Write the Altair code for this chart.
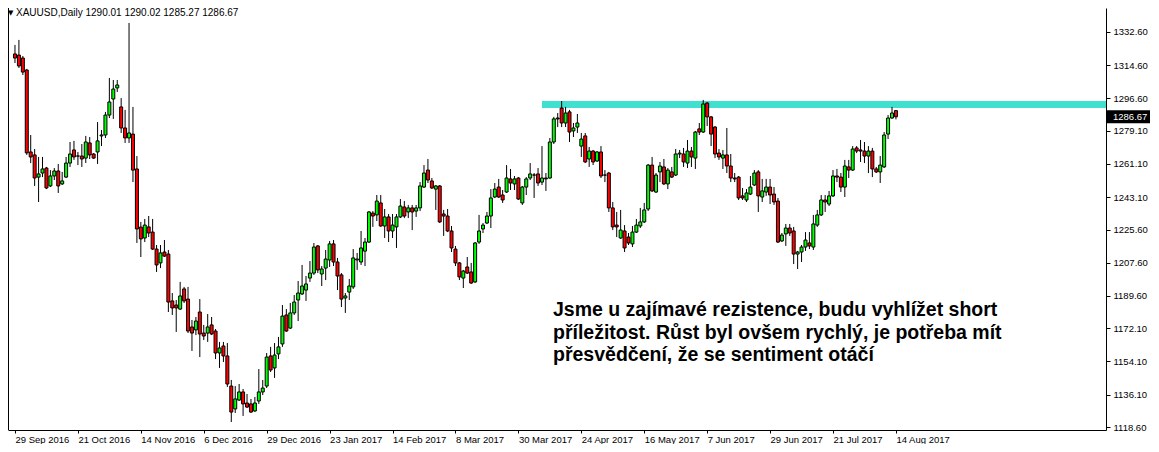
import altair as alt
import pandas as pd

# ---- data (XAUUSD daily candles) ----
dates = ["29 Sep 2016", "21 Oct 2016", "14 Nov 2016", "6 Dec 2016", "29 Dec 2016",
         "23 Jan 2017", "14 Feb 2017", "8 Mar 2017", "30 Mar 2017", "24 Apr 2017",
         "16 May 2017", "7 Jun 2017", "29 Jun 2017", "21 Jul 2017", "14 Aug 2017"]
date_index = list(range(0, 225, 16))

open_ = [1320.7, 1320.1, 1318.5, 1312.0, 1267.6, 1266.0, 1254.0, 1256.2, 1258.9, 1249.2,
         1254.6, 1257.3, 1250.3, 1254.0, 1261.6, 1268.7, 1265.4, 1265.4, 1264.3, 1272.5,
         1266.5, 1267.6, 1276.3, 1276.8, 1287.6, 1296.3, 1302.3, 1292.0, 1280.6, 1275.2,
         1277.3, 1258.4, 1226.9, 1221.0, 1227.0, 1224.2, 1215.0, 1207.5, 1213.4, 1212.3,
         1186.9, 1184.7, 1182.5, 1193.4, 1187.9, 1172.8, 1171.2, 1180.9, 1169.5, 1169.5,
         1173.9, 1170.6, 1158.7, 1162.5, 1157.1, 1140.8, 1128.4, 1133.2, 1137.6, 1131.6,
         1131.1, 1127.3, 1132.7, 1137.6, 1140.8, 1157.1, 1150.6, 1158.2, 1163.6, 1179.3,
         1172.2, 1180.4, 1187.4, 1190.7, 1192.8, 1199.3, 1202.0, 1216.7, 1201.5, 1204.7,
         1209.1, 1217.8, 1208.0, 1201.0, 1188.5, 1191.7, 1194.5, 1209.1, 1208.0, 1213.9,
         1218.8, 1234.5, 1233.5, 1240.0, 1227.5, 1232.4, 1224.8, 1227.0, 1232.4, 1237.8,
         1235.1, 1237.3, 1235.6, 1237.3, 1248.6, 1257.8, 1251.9, 1247.5, 1249.2, 1234.0,
         1232.9, 1224.8, 1215.0, 1207.5, 1199.3, 1205.3, 1202.6, 1197.2, 1218.8, 1225.9,
         1229.1, 1232.9, 1243.2, 1248.6, 1244.3, 1245.9, 1253.0, 1250.3, 1253.5, 1240.0,
         1248.6, 1253.5, 1255.1, 1255.7, 1251.3, 1253.5, 1253.5, 1273.0, 1286.0, 1291.4,
         1283.3, 1289.3, 1279.0, 1281.1, 1270.8, 1276.3, 1263.8, 1268.1, 1262.7, 1267.6,
         1255.1, 1256.2, 1237.3, 1228.0, 1221.0, 1224.8, 1221.5, 1217.8, 1224.2, 1227.5,
         1229.7, 1236.7, 1260.5, 1245.9, 1256.8, 1259.5, 1250.3, 1256.8, 1255.1, 1266.5,
         1266.5, 1261.6, 1268.1, 1264.3, 1280.1, 1278.4, 1294.1, 1286.6, 1281.1, 1267.0,
         1264.3, 1266.0, 1260.0, 1253.5, 1254.0, 1243.8, 1241.6, 1244.8, 1249.7, 1256.8,
         1243.2, 1245.9, 1248.6, 1244.8, 1241.0, 1219.4, 1223.2, 1226.4, 1224.8, 1212.3,
         1213.4, 1216.1, 1218.3, 1216.1, 1228.0, 1233.5, 1241.6, 1239.4, 1243.8, 1254.6,
         1254.0, 1248.6, 1259.5, 1257.8, 1269.8, 1268.7, 1268.1, 1265.4, 1268.1, 1258.4,
         1256.8, 1259.5, 1277.3, 1286.0, 1290.01]
high = [1325.6, 1328.3, 1319.6, 1312.6, 1276.8, 1269.2, 1264.9, 1264.9, 1259.5, 1257.8,
        1258.9, 1261.1, 1256.8, 1264.9, 1273.0, 1273.6, 1267.6, 1271.9, 1276.3, 1275.7,
        1267.0, 1283.8, 1279.5, 1289.3, 1307.7, 1306.6, 1306.6, 1296.8, 1290.4, 1337.5,
        1292.0, 1265.4, 1229.7, 1231.3, 1232.9, 1231.3, 1217.2, 1217.2, 1219.9, 1214.5,
        1191.2, 1187.4, 1197.2, 1194.5, 1194.5, 1176.6, 1178.2, 1187.9, 1173.9, 1179.8,
        1178.2, 1171.7, 1164.7, 1164.7, 1164.1, 1144.1, 1140.8, 1141.9, 1139.2, 1136.5,
        1133.8, 1134.9, 1150.0, 1144.1, 1158.7, 1162.0, 1164.1, 1167.4, 1184.7, 1182.5,
        1185.8, 1190.1, 1197.7, 1206.4, 1200.4, 1208.5, 1218.3, 1217.2, 1205.8, 1214.5,
        1219.4, 1219.9, 1210.2, 1202.0, 1191.2, 1198.8, 1215.0, 1212.9, 1224.8, 1221.0,
        1235.6, 1235.6, 1244.3, 1244.3, 1236.7, 1234.0, 1234.0, 1234.0, 1242.1, 1241.0,
        1238.9, 1238.9, 1238.9, 1251.3, 1260.5, 1263.8, 1253.5, 1249.7, 1249.7, 1236.2,
        1236.7, 1227.5, 1216.7, 1208.0, 1203.7, 1210.7, 1207.5, 1218.8, 1233.5, 1229.1,
        1235.1, 1247.5, 1250.8, 1253.0, 1247.0, 1260.5, 1258.4, 1254.6, 1254.0, 1249.2,
        1254.0, 1261.6, 1256.2, 1258.9, 1270.8, 1256.2, 1275.2, 1286.6, 1288.7, 1295.2,
        1292.0, 1290.4, 1283.3, 1288.2, 1277.9, 1277.9, 1270.3, 1268.7, 1268.1, 1270.8,
        1257.8, 1256.8, 1240.5, 1235.1, 1236.2, 1228.0, 1223.7, 1227.5, 1231.3, 1237.3,
        1240.0, 1261.1, 1264.9, 1256.2, 1262.2, 1263.8, 1258.9, 1259.5, 1269.2, 1268.7,
        1269.8, 1274.1, 1270.3, 1279.0, 1283.3, 1295.8, 1294.7, 1287.1, 1281.7, 1269.2,
        1268.7, 1280.6, 1266.5, 1256.2, 1254.6, 1248.1, 1247.5, 1254.6, 1257.8, 1257.8,
        1253.0, 1253.0, 1253.0, 1248.6, 1242.7, 1223.7, 1228.6, 1228.6, 1227.0, 1214.0,
        1217.2, 1224.2, 1224.2, 1233.5, 1236.2, 1244.3, 1244.3, 1246.5, 1257.8, 1258.4,
        1256.2, 1263.3, 1263.3, 1270.8, 1270.8, 1274.1, 1273.0, 1270.8, 1269.8, 1259.5,
        1265.4, 1278.4, 1287.6, 1292.0, 1290.02]
low = [1315.8, 1313.1, 1309.3, 1266.0, 1261.6, 1249.2, 1240.5, 1254.0, 1247.5, 1248.6,
       1252.4, 1245.4, 1249.7, 1253.5, 1259.5, 1263.3, 1260.5, 1259.5, 1261.6, 1263.8,
       1263.8, 1261.1, 1270.8, 1275.2, 1286.0, 1285.5, 1300.1, 1277.9, 1272.5, 1272.5,
       1251.3, 1218.3, 1210.7, 1218.8, 1221.5, 1214.5, 1202.6, 1204.7, 1210.7, 1180.9,
       1179.3, 1170.1, 1182.0, 1185.8, 1169.5, 1159.8, 1168.4, 1156.5, 1165.7, 1164.7,
       1168.4, 1155.4, 1150.6, 1153.8, 1140.3, 1121.3, 1126.2, 1132.7, 1124.6, 1128.9,
       1126.2, 1126.7, 1131.1, 1135.9, 1139.7, 1148.4, 1145.2, 1155.4, 1162.0, 1170.1,
       1171.7, 1179.3, 1176.0, 1190.1, 1186.9, 1197.2, 1201.0, 1202.0, 1195.0, 1198.2,
       1205.3, 1205.8, 1192.8, 1183.6, 1180.4, 1187.4, 1193.4, 1203.7, 1206.4, 1205.8,
       1218.3, 1227.0, 1230.2, 1227.0, 1221.0, 1218.8, 1221.0, 1215.6, 1231.8, 1231.8,
       1231.8, 1225.3, 1232.4, 1235.6, 1248.1, 1250.8, 1247.5, 1236.2, 1229.1, 1222.1,
       1224.2, 1213.4, 1205.8, 1198.2, 1193.9, 1201.5, 1196.1, 1196.6, 1217.8, 1223.7,
       1228.6, 1226.4, 1242.7, 1242.7, 1240.0, 1245.4, 1247.0, 1247.0, 1241.6, 1238.9,
       1244.3, 1252.4, 1242.7, 1249.2, 1249.7, 1246.5, 1253.0, 1271.9, 1281.1, 1281.1,
       1281.1, 1273.0, 1275.7, 1277.9, 1264.9, 1261.6, 1259.5, 1260.5, 1262.2, 1253.5,
       1251.3, 1235.1, 1225.3, 1221.5, 1220.5, 1213.4, 1217.2, 1216.1, 1223.7, 1226.4,
       1229.1, 1235.6, 1245.9, 1245.4, 1251.3, 1249.7, 1247.5, 1253.5, 1254.6, 1264.3,
       1259.5, 1258.9, 1259.5, 1258.4, 1276.8, 1277.9, 1281.7, 1270.8, 1264.3, 1263.3,
       1258.4, 1256.2, 1251.3, 1251.3, 1241.6, 1241.6, 1240.5, 1244.3, 1249.2, 1235.1,
       1240.5, 1243.8, 1239.4, 1238.9, 1218.3, 1218.8, 1216.7, 1222.1, 1206.9, 1204.2,
       1208.0, 1214.0, 1215.0, 1214.5, 1227.0, 1232.9, 1235.1, 1238.3, 1243.2, 1251.3,
       1245.9, 1243.2, 1253.5, 1257.3, 1267.0, 1262.2, 1261.6, 1256.2, 1254.0, 1256.2,
       1250.8, 1258.9, 1274.6, 1285.5, 1285.27]
close = [1318.5, 1314.2, 1310.9, 1267.1, 1264.9, 1253.5, 1255.7, 1258.4, 1248.1, 1254.6,
         1257.3, 1249.2, 1251.9, 1261.6, 1266.5, 1264.9, 1265.4, 1263.8, 1273.0, 1266.0,
         1264.3, 1273.6, 1276.8, 1287.6, 1294.7, 1301.7, 1303.9, 1280.6, 1275.2, 1277.9,
         1257.8, 1225.9, 1220.5, 1228.0, 1223.7, 1215.0, 1206.4, 1212.9, 1211.2, 1186.3,
         1183.1, 1183.1, 1189.6, 1186.9, 1170.6, 1169.5, 1176.0, 1169.0, 1167.9, 1172.8,
         1169.0, 1158.7, 1161.4, 1157.1, 1141.9, 1126.7, 1133.8, 1137.6, 1131.1, 1129.4,
         1126.7, 1131.6, 1137.6, 1139.7, 1156.5, 1149.5, 1157.6, 1162.0, 1178.7, 1170.6,
         1180.4, 1186.3, 1191.2, 1195.0, 1196.1, 1202.0, 1216.1, 1203.7, 1204.2, 1209.6,
         1217.8, 1208.0, 1200.4, 1187.9, 1189.6, 1195.0, 1210.2, 1209.6, 1215.6, 1218.8,
         1235.1, 1232.9, 1241.0, 1227.5, 1232.4, 1224.8, 1228.0, 1232.4, 1238.3, 1232.9,
         1237.3, 1235.1, 1237.3, 1249.2, 1256.2, 1252.4, 1248.1, 1249.2, 1229.7, 1232.9,
         1224.8, 1215.6, 1207.5, 1199.9, 1203.1, 1202.0, 1196.6, 1218.3, 1224.8, 1228.0,
         1232.9, 1242.7, 1247.5, 1243.2, 1241.6, 1253.5, 1250.8, 1253.0, 1242.1, 1248.6,
         1253.0, 1255.7, 1255.1, 1250.8, 1253.5, 1253.0, 1273.0, 1285.5, 1285.5, 1283.3,
         1288.7, 1278.4, 1280.6, 1283.3, 1274.6, 1262.2, 1268.1, 1262.2, 1267.6, 1254.6,
         1255.1, 1237.3, 1227.0, 1227.0, 1225.3, 1215.6, 1218.3, 1224.2, 1228.0, 1229.7,
         1236.2, 1260.5, 1246.5, 1255.1, 1260.0, 1250.3, 1257.8, 1254.0, 1266.5, 1267.0,
         1262.2, 1268.1, 1264.9, 1278.4, 1278.4, 1293.6, 1286.6, 1277.3, 1266.5, 1264.9,
         1266.0, 1260.0, 1253.5, 1253.0, 1242.7, 1242.7, 1245.4, 1248.6, 1256.2, 1243.8,
         1246.5, 1248.6, 1244.3, 1240.5, 1218.8, 1222.6, 1226.4, 1223.7, 1212.3, 1213.4,
         1216.1, 1219.9, 1216.7, 1228.6, 1233.5, 1241.6, 1240.5, 1243.8, 1254.6, 1254.0,
         1248.6, 1260.0, 1257.8, 1269.2, 1268.1, 1268.1, 1265.4, 1268.1, 1258.4, 1256.8,
         1260.5, 1276.8, 1286.0, 1288.7, 1286.67]

y_ticks = [1118.6, 1136.1, 1154.1, 1172.1, 1189.6, 1207.6, 1225.6, 1243.1,
           1261.1, 1279.1, 1296.6, 1314.6, 1332.6]

res_start = [134]
res_low = [1291.4]
res_high = [1295.2]

header_text = ["XAUUSD,Daily  1290.01 1290.02 1285.27 1286.67"]
note_lines = ["Jsme u zajímavé rezistence, budu vyhlížet short",
              "příležitost. Růst byl ovšem rychlý, je potřeba mít",
              "přesvědčení, že se sentiment otáčí"]

# ---- chart ----
W, H = 1098, 422
FONT = "Liberation Sans"

df = pd.DataFrame({"i": list(range(len(open_))), "o": open_, "h": high,
                   "l": low, "c": close})
df["dir"] = ["up" if c >= o else "down" for o, c in zip(open_, close)]

xs = alt.Scale(domain=[-0.504, 276.14], nice=False, zero=False)
ys = alt.Scale(domain=[1116.98, 1345.6], nice=False, zero=False)

label_expr = "[" + ",".join("'%s'" % d for d in dates) + "][round(datum.value/16)]"

x_axis = alt.Axis(orient="bottom", values=date_index, labelExpr=label_expr, title=None,
                  labelAlign="left", labelBaseline="top", labelPadding=1, tickSize=3,
                  labelFont=FONT, labelFontSize=9.5, labelColor="black",
                  labelOverlap=False, labelFlush=False, labelBound=False,
                  domainColor="black", tickColor="black", grid=False)
y_axis = alt.Axis(orient="right", values=y_ticks, format=".2f", title=None,
                  tickSize=4, labelPadding=3, labelFont=FONT, labelFontSize=9.5,
                  labelColor="black", labelOverlap=False, labelFlush=False,
                  labelBound=False, domainColor="black", tickColor="black", grid=False)


def X(field):
    return alt.X(field, scale=xs, axis=x_axis)


def Y(field):
    return alt.Y(field, scale=ys, axis=y_axis)


band = alt.Chart(pd.DataFrame({"x": res_start, "y": res_low, "y2": res_high})).mark_rect(
    color="#40e0d0").encode(x=X("x:Q"), x2=alt.value(W), y=Y("y:Q"), y2="y2:Q")

base = alt.Chart(df)
wicks = base.mark_rule(color="black", strokeWidth=1).encode(
    x=X("i:Q"), y=Y("l:Q"), y2="h:Q")
bodies = base.mark_bar(width=3, stroke="black", strokeWidth=1).encode(
    x=X("i:Q"), y=Y("o:Q"), y2="c:Q",
    fill=alt.Fill("dir:N", scale=alt.Scale(domain=["up", "down"],
                                           range=["#00ff00", "#ff0000"]), legend=None))

left_border = alt.Chart(pd.DataFrame({"a": [0]})).mark_rule(color="black").encode(
    x=alt.value(0.5), y=alt.value(0), y2=alt.value(H))

last_df = pd.DataFrame({"p": [close[-1]]})
price_box = alt.Chart(last_df).transform_calculate(
    top="datum.p + 3.5", bot="datum.p - 3.5").mark_rect(color="black").encode(
    x=alt.value(W), x2=alt.value(W + 44), y=Y("top:Q"), y2="bot:Q")
price_text = alt.Chart(last_df).mark_text(
    color="white", align="left", baseline="middle", font=FONT, fontSize=9.5).encode(
    x=alt.value(W + 7), y=Y("p:Q"), text=alt.Text("p:Q", format=".2f"))

tri = alt.Chart(pd.DataFrame({"t": ["▼"]})).mark_text(
    align="left", baseline="middle", fontSize=7, font="DejaVu Sans", color="black").encode(
    x=alt.value(0), y=alt.value(5), text="t:N")
header = alt.Chart(pd.DataFrame({"t": header_text})).mark_text(
    align="left", baseline="middle", fontSize=10, font=FONT, color="black").encode(
    x=alt.value(8), y=alt.value(5), text="t:N")

note = alt.Chart(pd.DataFrame({"t": ["\n".join(note_lines)]})).mark_text(
    align="left", baseline="alphabetic", lineBreak="\n", lineHeight=22.5,
    font=FONT, fontSize=19.5, fontWeight="bold", color="black").encode(
    x=alt.value(545), y=alt.value(308), text="t:N")

chart = alt.layer(band, wicks, bodies, left_border, price_box, price_text, tri, header, note
).properties(
    width=W, height=H,
    padding={"left": 0, "top": 0, "right": 45, "bottom": 14},
    autosize=alt.AutoSizeParams(type="none"),
    background="white"
).configure_view(stroke=None).configure_axis(grid=False, labelOverlap=False)

chart.save("out.html", embed_options={"renderer": "svg", "actions": False})
